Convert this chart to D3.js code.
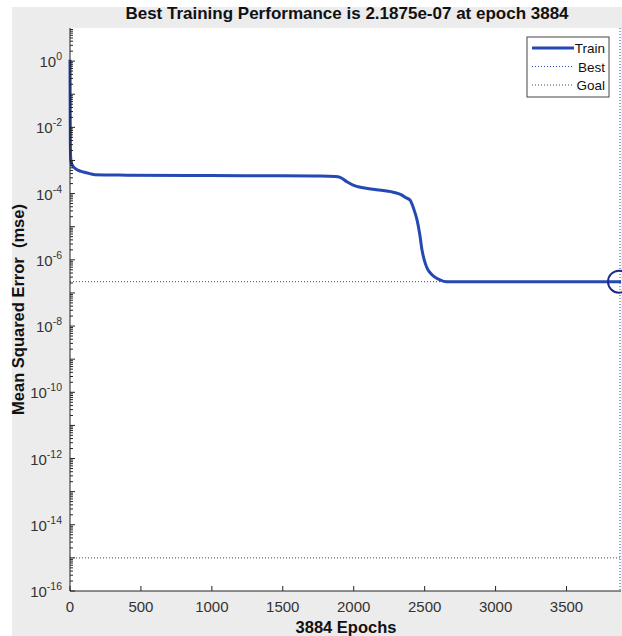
<!DOCTYPE html>
<html>
<head>
<meta charset="utf-8">
<script src="https://cdn.jsdelivr.net/npm/d3@7"></script>
<style>
  body { margin: 0; background: #fff; }
  text { font-family: "Liberation Sans", Arial, sans-serif; }
</style>
</head>
<body>
<div id="chart"></div>
<script>
// training curve (epoch, mse)
const epochs = [0, 1, 2, 4, 8, 20, 35, 60, 94, 140, 176, 400, 987, 1500, 1763, 1870, 1904, 1950, 1996, 2137, 2278, 2340, 2362, 2398, 2412, 2430, 2447, 2465, 2482, 2500, 2518, 2550, 2588, 2659, 3000, 3500, 3884];
const mse = [1.1, 0.08, 0.006, 0.0014, 9e-4, 6.8e-4, 5.8e-4, 5.0e-4, 4.5e-4, 4.0e-4, 3.7e-4, 3.6e-4, 3.5e-4, 3.45e-4, 3.4e-4, 3.3e-4, 3.1e-4, 2.3e-4, 1.8e-4, 1.35e-4, 1.1e-4, 9e-5, 7.7e-5, 6.3e-5, 4.7e-5, 2.8e-5, 1.55e-5, 6e-6, 1.9e-6, 9e-7, 5.5e-7, 3.6e-7, 2.74e-7, 2.19e-7, 2.1875e-7, 2.1875e-7, 2.1875e-7];
const bestEpoch = 3884;
const bestValue = 2.1875e-7;
const goalValue = 1e-15;
const xTicks = [0, 500, 1000, 1500, 2000, 2500, 3000, 3500];
const yTickExps = [0, -2, -4, -6, -8, -10, -12, -14, -16];
const legendLabels = ["Train", "Best", "Goal"];

const width = 622, height = 636;
const plotLeft = 70, plotRight = 621, plotTop = 28, plotBottom = 591;
const blue = "#2449b2";

const svg = d3.select("#chart").append("svg")
  .attr("width", width).attr("height", height);

// figure background
svg.append("rect").attr("x", 12).attr("y", 7)
  .attr("width", width - 12).attr("height", height - 7)
  .attr("fill", "#ececec");
svg.append("rect").attr("x", plotLeft).attr("y", plotTop)
  .attr("width", plotRight - plotLeft).attr("height", plotBottom - plotTop)
  .attr("fill", "#fff");

const x = d3.scaleLinear().domain([0, bestEpoch]).range([plotLeft, plotRight]);
const y = d3.scaleLog().domain([1e-16, 10]).range([plotBottom, plotTop]);

// goal line
svg.append("line")
  .attr("x1", x(0)).attr("x2", x(bestEpoch))
  .attr("y1", y(goalValue)).attr("y2", y(goalValue))
  .attr("stroke", "#444").attr("stroke-width", 1).attr("stroke-dasharray", "1,2");

// best lines
svg.append("line")
  .attr("x1", x(0)).attr("x2", x(bestEpoch))
  .attr("y1", y(bestValue)).attr("y2", y(bestValue))
  .attr("stroke", blue).attr("stroke-width", 1).attr("stroke-dasharray", "1,2");
svg.append("line")
  .attr("x1", x(bestEpoch) - 1).attr("x2", x(bestEpoch) - 1)
  .attr("y1", y(10)).attr("y2", y(1e-16))
  .attr("stroke", blue).attr("stroke-width", 1).attr("stroke-dasharray", "1,2");

// train curve
const pts = epochs.map((e, i) => [e, mse[i]]);
const line = d3.line()
  .x(d => x(d[0]))
  .y(d => y(d[1]))
  .curve(d3.curveMonotoneX);
svg.append("path").datum(pts)
  .attr("d", line)
  .attr("fill", "none")
  .attr("stroke", blue)
  .attr("stroke-width", 3);

// best marker
svg.append("circle")
  .attr("cx", x(bestEpoch) - 2).attr("cy", y(bestValue)).attr("r", 11)
  .attr("fill", "none").attr("stroke", "#1c2a8c").attr("stroke-width", 2);

// axes
const axisColor = "#222";
svg.append("line").attr("x1", plotLeft).attr("x2", plotLeft).attr("y1", plotTop).attr("y2", plotBottom)
  .attr("stroke", axisColor);
svg.append("line").attr("x1", plotLeft).attr("x2", plotRight).attr("y1", plotBottom).attr("y2", plotBottom)
  .attr("stroke", axisColor);

// y ticks: major every decade, minor 2..9
const yTicks = svg.append("g");
for (let p = -16; p <= 0; p++) {
  yTicks.append("line")
    .attr("x1", plotLeft).attr("x2", plotLeft + 5)
    .attr("y1", y(Math.pow(10, p))).attr("y2", y(Math.pow(10, p)))
    .attr("stroke", axisColor);
  for (let m = 2; m <= 9; m++) {
    const v = m * Math.pow(10, p);
    yTicks.append("line")
      .attr("x1", plotLeft).attr("x2", plotLeft + 3)
      .attr("y1", y(v)).attr("y2", y(v))
      .attr("stroke", axisColor);
  }
}

// y labels with superscript
const yLab = svg.append("g").selectAll("text").data(yTickExps).join("text")
  .attr("x", plotLeft - 8)
  .attr("y", d => y(Math.pow(10, d)) + 6)
  .attr("text-anchor", "end")
  .attr("fill", "#333")
  .attr("font-size", 15);
yLab.append("tspan").text("10");
yLab.append("tspan").text(d => d === 0 ? "0" : "-" + (-d))
  .attr("dy", -7).attr("font-size", 10.5);

// x ticks
svg.append("g").selectAll("line").data(xTicks).join("line")
  .attr("x1", d => x(d)).attr("x2", d => x(d))
  .attr("y1", plotBottom).attr("y2", plotBottom - 5)
  .attr("stroke", axisColor);
svg.append("g").selectAll("text").data(xTicks).join("text")
  .attr("x", d => x(d)).attr("y", plotBottom + 21)
  .attr("text-anchor", "middle")
  .attr("fill", "#333")
  .attr("font-size", 15)
  .text(d => d);

// titles
svg.append("text").attr("x", 347).attr("y", 19)
  .attr("text-anchor", "middle").attr("font-size", 17).attr("font-weight", "bold")
  .attr("fill", "#111")
  .text("Best Training Performance is 2.1875e-07 at epoch 3884");
svg.append("text").attr("x", 346).attr("y", 633)
  .attr("text-anchor", "middle").attr("font-size", 16.5).attr("font-weight", "bold")
  .attr("fill", "#111")
  .text("3884 Epochs");
svg.append("text")
  .attr("transform", `translate(24, ${(plotTop + plotBottom) / 2}) rotate(-90)`)
  .attr("text-anchor", "middle").attr("font-size", 16.5).attr("font-weight", "bold")
  .attr("fill", "#111")
  .style("white-space", "pre")
  .text("Mean Squared Error  (mse)");

// legend
const lg = svg.append("g").attr("transform", "translate(527,37)");
lg.append("rect").attr("width", 82).attr("height", 60)
  .attr("fill", "#fff").attr("stroke", "#444").attr("stroke-width", 1);
const styles = [
  { stroke: blue, w: 3, dash: null },
  { stroke: blue, w: 1, dash: "1,2" },
  { stroke: "#444", w: 1, dash: "1,2" }
];
legendLabels.forEach((name, i) => {
  const yy = 11 + i * 18.5;
  lg.append("line").attr("x1", 5).attr("x2", 47).attr("y1", yy).attr("y2", yy)
    .attr("stroke", styles[i].stroke).attr("stroke-width", styles[i].w)
    .attr("stroke-dasharray", styles[i].dash);
  lg.append("text").attr("x", 78).attr("y", yy + 5)
    .attr("text-anchor", "end").attr("font-size", 13.5).attr("fill", "#111")
    .text(name);
});
</script>
</body>
</html>
